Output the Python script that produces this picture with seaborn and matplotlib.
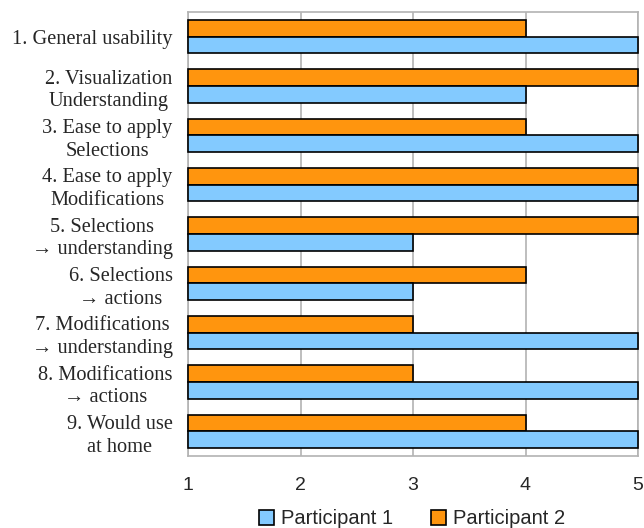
import numpy as np
import pandas as pd
import matplotlib
matplotlib.use("Agg")
import matplotlib.pyplot as plt
import seaborn as sns
from matplotlib.patches import Patch

questions = [
    "1. General usability",
    "2. Visualization\nUnderstanding",
    "3. Ease to apply\nSelections",
    "4. Ease to apply\nModifications",
    "5. Selections\n\u2192 understanding",
    "6. Selections\n\u2192 actions",
    "7. Modifications\n\u2192 understanding",
    "8. Modifications\n\u2192 actions",
    "9. Would use\nat home",
]
participant1 = [5, 4, 5, 5, 3, 3, 5, 5, 5]
participant2 = [4, 5, 4, 5, 5, 4, 3, 3, 4]

colors = {"Participant 1": "#83CAFF", "Participant 2": "#FF950E"}

df = pd.DataFrame({
    "question": questions * 2,
    "score": participant1 + participant2,
    "who": ["Participant 1"] * len(questions) + ["Participant 2"] * len(questions),
})

sns.set_style("white")
plt.rcParams["font.family"] = ["Liberation Sans", "DejaVu Sans"]

fig = plt.figure(figsize=(6.44, 5.28), dpi=100)
ax = fig.add_axes([188 / 644, 1 - 456 / 528, 450 / 644, 444 / 528])

sns.barplot(data=df, y="question", x="score", hue="who",
            hue_order=["Participant 2", "Participant 1"], order=questions,
            palette=colors, orient="h", width=0.67, edgecolor="black",
            linewidth=1.2, saturation=1, legend=False, ax=ax)

# bars start at the axis minimum (1)
for p in ax.patches:
    w = p.get_width()
    if w > 0:
        p.set_x(1)
        p.set_width(w - 1)
        p.set_clip_on(False)
        p.set_zorder(3)

ax.set_xlim(1, 5)
ax.set_ylim(len(questions) - 0.5, -0.5)
ax.set_xticks([1, 2, 3, 4, 5])
ax.set_xlabel("")
ax.set_ylabel("")
ax.xaxis.grid(True, color="#b3b3b3", linewidth=1.2)
ax.set_axisbelow(True)
for s in ax.spines.values():
    s.set_color("#b3b3b3")
    s.set_linewidth(1.2)

ax.tick_params(axis="x", length=6, color="#b3b3b3", width=1.2, labelsize=14, pad=9)
ax.tick_params(axis="y", which="major", length=0, pad=11)
ax.set_yticks(np.arange(-0.5, len(questions)), minor=True)
ax.tick_params(axis="y", which="minor", length=7, color="#b3b3b3", width=1.2)
for lab in ax.get_yticklabels():
    lab.set_family(["Liberation Serif", "DejaVu Serif"])
    lab.set_fontsize(14.7)
    lab.set_multialignment("center")
    lab.set_linespacing(1.28)

handles = [Patch(facecolor=colors[k], edgecolor="black", linewidth=1.2, label=k)
           for k in ["Participant 1", "Participant 2"]]
fig.legend(handles=handles, loc="lower center", bbox_to_anchor=(0.64, -0.035),
           ncol=2, frameon=False, fontsize=14.5, handlelength=0.75, handleheight=0.75,
           handletextpad=0.35, columnspacing=1.9)

fig.savefig("out.png", dpi=100)
